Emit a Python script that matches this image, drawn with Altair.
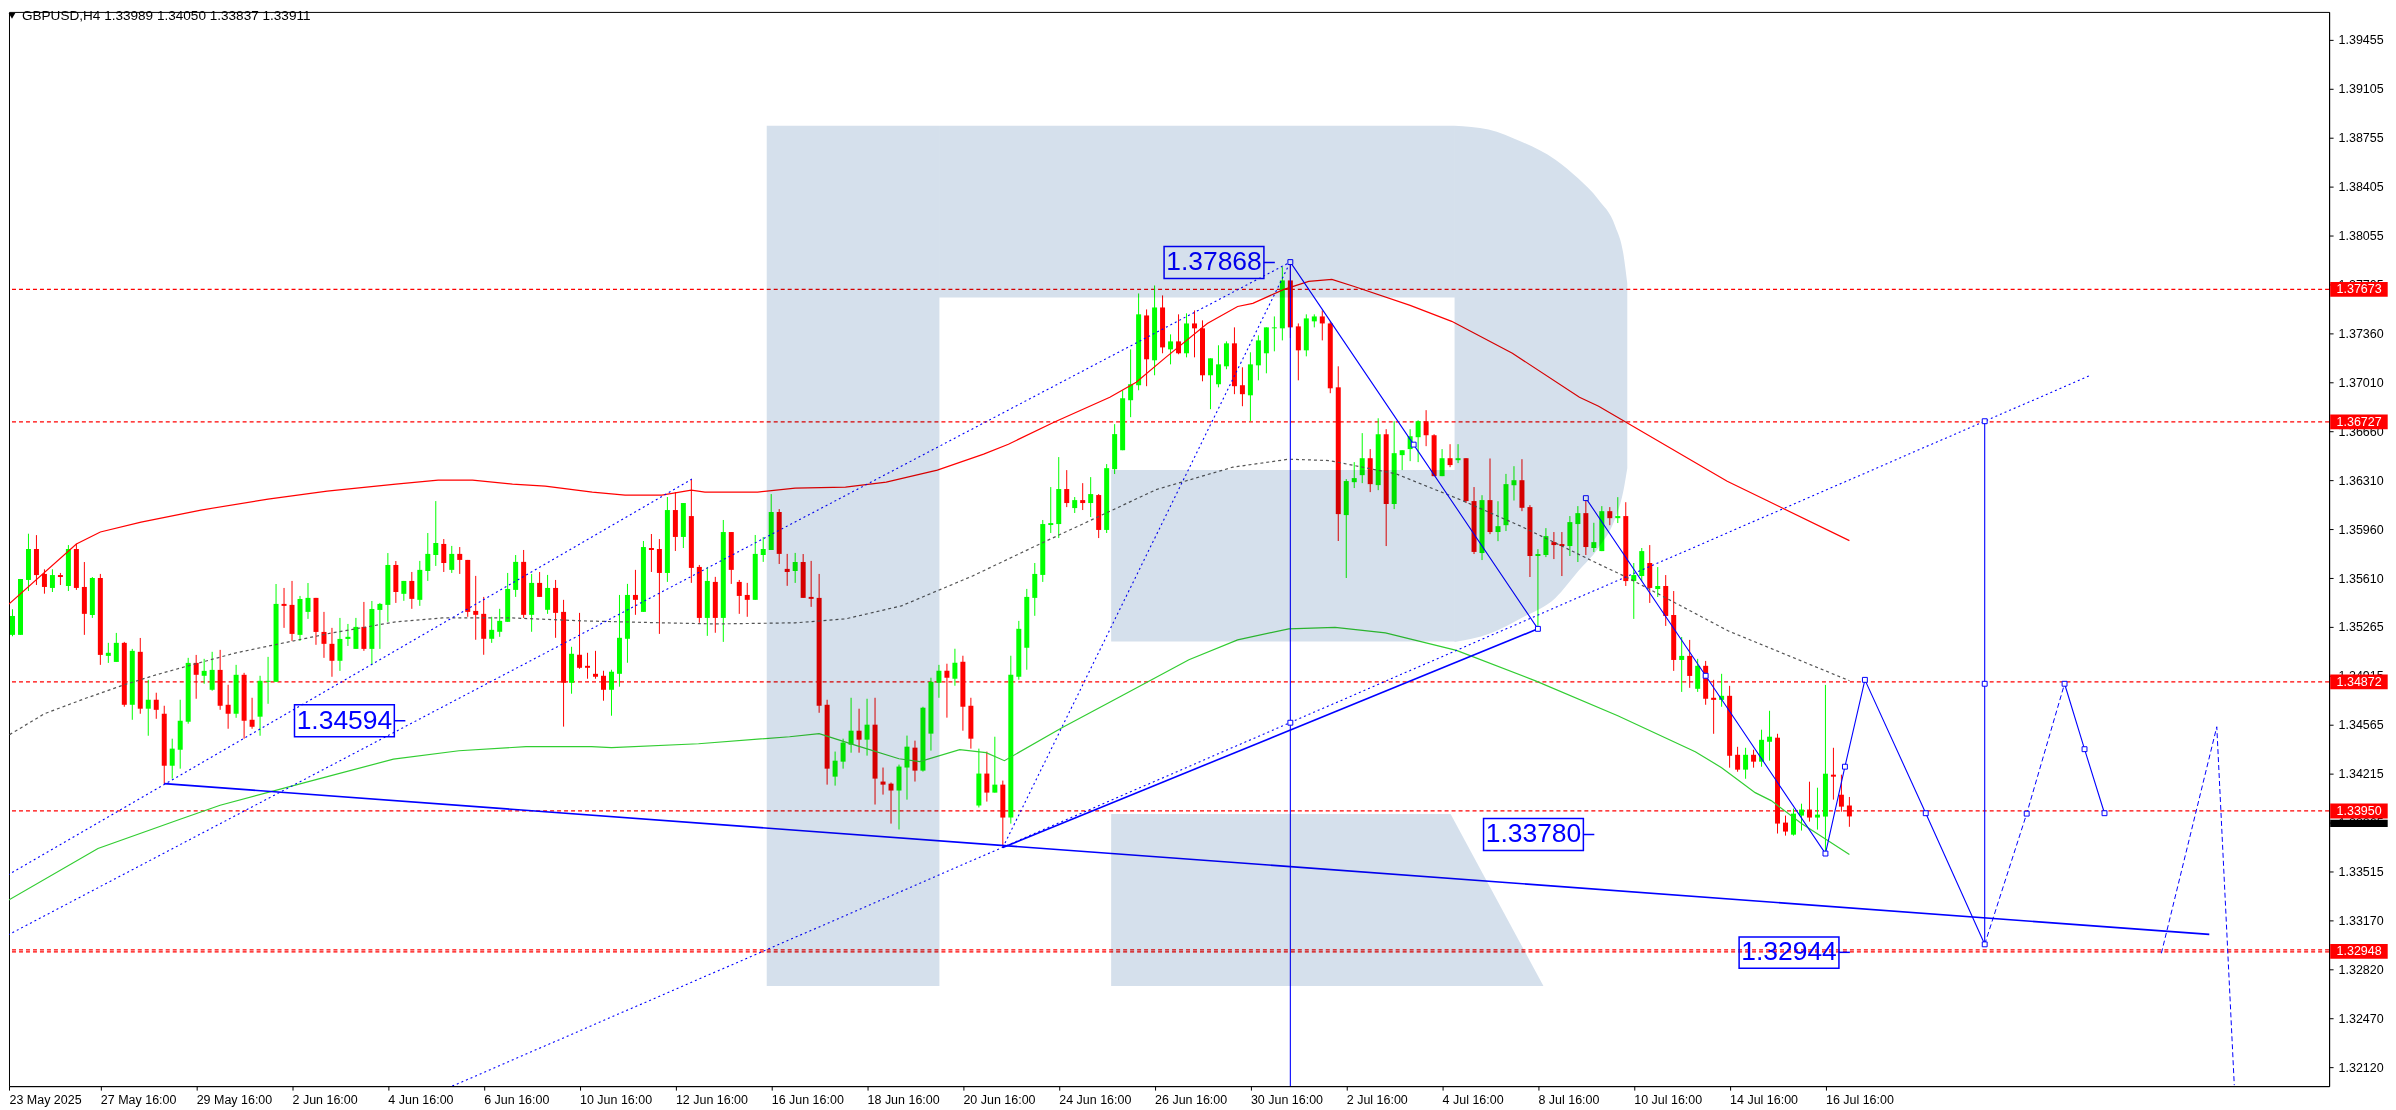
import json
import altair as alt
import pandas as pd

# ---- candles, in points (price x 100000), bar index = position in list
up = ("GGGGRRGRGR" "RGRGGRGRGR" "RGGGRGGRRG" "RRGGGRRGGR" "RRGGGRGGGR"
      "GRGGGRGRRR" "RGGGGRGRGR" "RGRRRRGGGR" "GRRGRGRRGR" "GRRRGGGRRG"
      "RRRRGGGRGR" "RRGGRGGGRG" "RRGRGRGGGG" "GGGRGRGRGG" "GGGRGRGRGR"
      "RGGGRRGGGG" "GRRGGRRRGG" "GRGRGGGGRR" "GRGRRGRGGG" "RRGGRRGGRG"
      "GRGRGGRGRR" "GRGRRGRRGR" "GGRRGGRGGR" "RR")
highs = [
 135235,135390,135606,135929,135919,135675,135675,135649,135848,135858,
 135727,135620,135642,135150,135221,135157,135107,135185,134886,134794,
 134701,134466,134744,135043,135064,135036,135086,135100,134851,134993,
 134936,134758,134915,135050,135570,135542,135592,135485,135577,135471,
 135371,135257,135328,135285,135328,135442,135449,135435,135791,135734,
 135592,135656,135735,135934,136162,135891,135842,135834,135742,135628,
 135478,135336,135393,135649,135777,135813,135642,135656,135635,135599,
 135457,135122,135364,135079,135093,134951,134958,135492,135571,135671,
 135877,135927,135891,136191,136226,136148,136319,135706,135692,135621,
 136027,135941,135599,135578,135920,135906,136212,136105,135785,135792,
 135784,135735,135642,134744,134374,134466,134758,134680,134751,134758,
 134260,134153,134281,134488,134452,134694,134901,134993,135001,135108,
 135058,134758,134395,134374,134480,134167,135058,135307,135535,135720,
 136027,136262,136476,136383,136191,136290,136333,136212,136426,136711,
 136953,137245,137644,137530,137701,137630,137352,137495,137502,137523,
 137452,137181,137274,137302,137402,137117,137224,137345,137402,137480,
 137832,137868,137430,137495,137495,137523,137445,137124,136319,136440,
 136647,136533,136753,136675,136732,136525,136675,136739,136811,136639,
 136533,136568,136568,136468,136262,136204,136466,136161,136356,136411,
 136461,136133,135819,135969,135941,135941,136055,136126,136169,136007,
 136126,136119,136190,136154,135720,135827,135848,135691,135634,135520,
 135192,135171,135036,135021,134886,134929,134843,134408,134401,134387,
 134530,134665,134501,133917,133967,134002,134159,134116,134850,134401,
 134209,134050]
tops = [
 135212,135342,135606,135820,135820,135642,135634,135634,135820,135820,
 135549,135613,135613,135079,135150,135150,135093,135086,134744,134744,
 134644,134395,134594,135007,135007,134950,134957,134957,134708,134922,
 134922,134601,134879,134879,135428,135428,135421,135463,135471,135471,
 135228,135143,135178,135193,135264,135264,135392,135428,135706,135706,
 135592,135592,135671,135785,135863,135856,135785,135785,135742,135378,
 135357,135243,135307,135535,135728,135728,135578,135578,135542,135542,
 135371,135072,135065,134986,134929,134915,134944,135186,135492,135492,
 135834,135827,135820,136098,136098,136148,136055,135692,135592,135585,
 135941,135941,135585,135492,135785,135820,136084,136084,135678,135727,
 135727,135478,135471,134708,134309,134438,134523,134523,134566,134566,
 134160,134145,134267,134409,134402,134687,134872,134951,134951,135008,
 135015,134701,134217,134217,134138,134138,134922,135250,135478,135642,
 135998,136005,136248,136248,136169,136169,136212,136205,136397,136640,
 136896,136996,137495,137487,137544,137544,137302,137302,137430,137430,
 137395,137181,137138,137288,137288,136989,137138,137309,137402,137402,
 137737,137737,137409,137466,137480,137480,137430,136974,136305,136326,
 136468,136468,136639,136639,136504,136525,136625,136732,136732,136632,
 136468,136468,136468,136468,136162,136169,136169,135983,136283,136311,
 136311,136119,135784,135912,135869,135855,136012,136076,136076,135869,
 136090,136090,136055,136055,135634,135805,135720,135556,135556,135349,
 135057,135057,134986,134986,134758,134772,134772,134351,134351,134351,
 134458,134480,134473,133867,133931,133960,133960,133924,134216,134209,
 134066,133989]
bottoms = [
 135164,135207,135207,135599,135634,135549,135542,135620,135556,135542,
 135357,135349,135064,135057,135014,134708,134708,134680,134680,134672,
 134273,134273,134387,134587,134922,134915,134815,134701,134644,134644,
 134594,134551,134623,134872,134872,135414,135214,135207,135371,135228,
 135143,135022,135022,135178,135107,135107,135107,135385,135421,135513,
 135500,135464,135457,135663,135777,135720,135671,135742,135371,135350,
 135179,135179,135229,135300,135528,135350,135350,135478,135386,135364,
 134865,134865,134972,134972,134908,134815,134815,134929,135179,135457,
 135371,135813,135649,135649,135906,135906,135685,135328,135328,135328,
 135328,135671,135485,135457,135457,135777,135813,135785,135656,135663,
 135471,135464,134701,134252,134195,134302,134423,134459,134459,134181,
 134138,134096,134096,134260,134238,134238,134502,134865,134901,134894,
 134694,134466,133989,134081,134081,133903,133903,134908,135115,135471,
 135635,135991,135998,136148,136112,136148,136148,135956,135956,136390,
 136525,136882,136989,137174,137167,137259,137245,137217,137217,137395,
 137060,137060,136996,137124,136982,136925,136917,137131,137217,137395,
 137395,137402,137238,137238,137445,137430,136967,136069,136062,136297,
 136347,136283,136276,136141,136141,136490,136533,136618,136632,136340,
 136340,136419,136454,136162,135799,135791,135941,135941,135990,136275,
 136114,135770,135770,135777,135848,135841,135841,135998,135834,135827,
 135805,136040,136040,135591,135591,135627,135542,135534,135342,135028,
 135028,134914,134822,134751,134743,134743,134344,134245,134245,134302,
 134302,134444,133860,133803,133781,133917,133903,133903,133910,134195,
 133981,133911]
lows = [
 134796,135197,135207,135520,135563,135501,135513,135563,135520,135528,
 135207,135328,134993,135007,135014,134694,134601,134644,134487,134608,
 134143,134181,134252,134573,134751,134858,134808,134672,134537,134615,
 134466,134537,134487,134715,134872,135257,135164,135164,135321,135136,
 135043,134908,134950,135128,135107,135093,134993,135107,135300,135435,
 135450,135393,135414,135592,135699,135656,135649,135642,135336,135172,
 135065,135150,135193,135300,135478,135328,135229,135478,135357,135186,
 134552,134787,134965,134894,134894,134737,134630,134837,135008,135350,
 135371,135656,135214,135585,135806,135827,135578,135293,135200,135222,
 135157,135571,135357,135336,135457,135728,135813,135713,135557,135578,
 135471,135407,134651,134138,134131,134252,134366,134366,134345,133996,
 134067,133860,133818,134031,134160,134231,134381,134758,134616,134844,
 134523,134395,133975,134017,134081,133692,133860,134887,134958,135343,
 135585,135934,135898,136119,136077,136098,136048,135898,135934,136355,
 136525,136761,136953,136982,137060,137217,137138,137210,137188,137188,
 137017,136818,136974,137103,136925,136839,136732,137024,137074,137231,
 137309,137326,137024,137195,137402,137309,136932,135877,135613,136255,
 136290,136226,136240,135841,136105,136383,136447,136440,136554,136340,
 136340,136404,136433,136148,135784,135741,135926,135876,135948,136166,
 136090,135620,135264,135762,135748,135627,135770,135727,135777,135798,
 135805,135990,136005,135556,135321,135591,135435,135477,135271,134950,
 134800,134829,134800,134708,134501,134694,134259,134230,134180,134259,
 134266,134309,133789,133774,133774,133810,133874,133817,133644,134031,
 133945,133837]

# ---- Bollinger bands (bar index, points)
upper_i = [0,9,12,17.1,24.6,33,40.4,49,54.3,58.6,63.6,67.7,73.6,77.7,82.3,86,87.7,94.3,99,105.3,110.4,116.8,122.6,125.7,131.4,138.4,141.7,145.4,150.6,154.4,156.3,160.2,163.3,166.2,169,176,181.2,188.8,197.2,199.6,215.7,220.8,231]
upper_p = [135399,135855,135941,136012,136098,136176,136233,136283,136312,136312,136283,136269,136226,136205,136205,136240,136226,136226,136255,136262,136297,136383,136497,136568,136725,136903,137010,137188,137430,137551,137573,137673,137730,137744,137694,137559,137445,137217,136903,136839,136304,136162,135880]
middle_i = [0,5,10,15,19,23,29,35,41,49,54.8,63.6,72.3,82.3,89,99,105.3,112.3,121.2,129.6,136.6,144.2,153.8,160.8,165.9,174.2,182.4,190,199.6,203.3,215.8,231]
middle_p = [134473,134644,134751,134851,134922,134986,135079,135150,135221,135300,135328,135328,135307,135293,135285,135293,135321,135414,135627,135855,136041,136244,136404,136461,136451,136357,136169,135979,135713,135613,135236,134880]
lower_i = [0,11.7,21.9,27,39,48.7,56.9,65.3,73.5,76,86.9,98.3,102,106.7,112,114.6,119.6,122.9,125.2,132.4,139.9,148.3,154.4,160.8,166.6,172.9,181.8,191.7,202,211.7,215,219.2,221.2,225,231]
lower_p = [133297,133682,133889,133991,134174,134320,134380,134409,134409,134402,134430,134480,134502,134416,134323,134302,134388,134366,134309,134544,134772,135029,135171,135250,135260,135221,135096,134879,134630,134373,134259,134081,134024,133860,133640]

# ---- drawn trend objects: (bar index, points)
dotted_lines = {
    "channel_a": ([-0.125, 86.06], [133475, 136319]),
    "channel_b": ([-0.125, 161], [133048, 137868]),
    "channel_c": ([56.06, 261.2], [131986, 137060]),
    "fan": ([125, 161], [133689, 137868]),
}
thick_lines = {
    "support": ([20, 276.06], [134145, 133069]),
    "swing": ([125, 192], [133689, 135250]),
}
thin_lines = {
    "wave1": ([161, 176.44, 192], [137868, 136565, 135250]),
    "wave2": ([198, 213, 228, 230.44, 232.94, 240.56, 247.94], [136183, 134915, 133646, 134266, 134886, 133934, 132998]),
    "wave3": ([257.94, 260.44, 262.94], [134858, 134391, 133934]),
    "stem1": ([161, 161], [137868, 131986]),
    "stem2": ([247.94, 247.94], [136732, 132998]),
}
dashed_lines = {
    "leg1": ([247.94, 253.2, 257.94], [132998, 133931, 134858]),
    "leg2": ([270.06, 277, 279.19], [132934, 134551, 131993]),
}
marker_i = [161,176.44,192,198,213,228,230.44,232.94,240.56,247.94,247.94,247.94,253.2,257.94,260.44,262.94,161]
marker_p = [137868,136565,135250,136183,134915,133646,134266,134886,133934,132998,134858,136732,133931,134858,134391,133934,134580]

# ---- horizontal levels, scale labels
levels = [1.37673, 1.36727, 1.34872, 1.33950, 1.32958, 1.32944]
tag_values = [1.37673, 1.36727, 1.34872, 1.33950, 1.32948]
last_price = 1.33911
y_ticks = [1.39455,1.39105,1.38755,1.38405,1.38055,1.37705,1.37360,1.37010,1.36660,1.36310,1.35960,
           1.35610,1.35265,1.34915,1.34565,1.34215,1.33865,1.33515,1.33170,1.32820,1.32470,1.32120]
x_labels = ["23 May 2025","27 May 16:00","29 May 16:00","2 Jun 16:00","4 Jun 16:00","6 Jun 16:00",
            "10 Jun 16:00","12 Jun 16:00","16 Jun 16:00","18 Jun 16:00","20 Jun 16:00","24 Jun 16:00",
            "26 Jun 16:00","30 Jun 16:00","2 Jul 16:00","4 Jul 16:00","8 Jul 16:00","10 Jul 16:00",
            "14 Jul 16:00","16 Jul 16:00"]
header = "GBPUSD,H4  1.33989 1.34050 1.33837 1.33911"

# ---- boxed price labels: text, box i0, i1, p0, p1, tail i1
box_text = ["1.37868","1.34594","1.33780","1.32944"]
box_i0 = [145.19,36.31,185.19,217.19]
box_i1 = [157.69,48.81,197.69,229.69]
box_top = [137979,134708,133896,133051]
box_bot = [137751,134480,133668,132827]
box_mid = [137865,134594,133782,132941]
box_tail = [159.06,50.19,199.06,231.06]

# ---- watermark letter (bar index, points)
wm_stem = (95.4375, 117.0625, 132700, 138841)
wm_top = (117.0625, 181.5625, 137616, 138841)
wm_mid = (138.5625, 181.5625, 135159, 136383)
bowl_i = [181.5625,185.81,189.94,194.19,197.06,199.56,201.69,202.69,203.19]
bowl_hi = [138841,138815,138727,138599,138464,138314,138122,137929,137715]
bowl_lo = [135157,135214,135328,135471,135663,135827,136041,136233,136397]
leg_i = [138.5625,181.06,192.69]
leg_hi = [133929,133929,132700]
leg_lo = [132700,132700,132700]

FONT = "Liberation Sans"
P = 1e5
sx = alt.Scale(domain=[0.5625, 291.0625], nice=False, zero=False)
sy = alt.Scale(domain=[1.319861, 1.396536], nice=False, zero=False)

x_axis = alt.Axis(
    values=[0.5625] + [12 * k for k in range(1, len(x_labels))],
    labelExpr=json.dumps(x_labels) + "[round(datum.value/12)]",
    title=None, grid=False, orient="bottom", tickSize=4, tickColor="black", domainColor="black",
    labelFont=FONT, labelFontSize=12.5, labelColor="black", labelAlign="left", labelPadding=3,
    labelOverlap=False, labelFlush=False, labelBound=False,
)
y_axis = alt.Axis(
    values=y_ticks, format=".5f", title=None, grid=False, orient="right", tickSize=4, tickColor="black",
    domainColor="black", labelFont=FONT, labelFontSize=12.5, labelColor="black", labelPadding=5,
    labelOverlap=False, labelFlush=False, labelBound=False,
)
X = lambda f="i": alt.X(f"{f}:Q", scale=sx, axis=x_axis)
Y = lambda f="p": alt.Y(f"{f}:Q", scale=sy, axis=y_axis)

is_up = [c == "G" for c in up]
candles = pd.DataFrame({
    "i": range(len(highs)),
    "high": [v / P for v in highs],
    "low": [v / P for v in lows],
    "open": [(b if u else t) / P for b, t, u in zip(bottoms, tops, is_up)],
    "close": [(t if u else b) / P for b, t, u in zip(bottoms, tops, is_up)],
})
candles.loc[candles.index[-1], ["open", "high", "low", "close"]] = [1.33989, 1.34050, 1.33837, 1.33911]
candle_color = alt.condition("datum.close>=datum.open", alt.value("#00ff00"), alt.value("#ff0000"))

wicks = alt.Chart(candles).mark_rule(strokeWidth=1, clip=True).encode(
    x=X(), y=Y("high"), y2="low:Q", color=candle_color,
)
bodies = alt.Chart(candles).mark_rule(strokeWidth=5, clip=True).encode(
    x=X(), y=Y("open"), y2="close:Q", color=candle_color,
)


def path(xs, ps, **mark):
    df = pd.DataFrame({"i": xs, "p": [v / P for v in ps], "o": range(len(xs))})
    return alt.Chart(df).mark_line(clip=True, **mark).encode(x=X(), y=Y(), order="o:Q")


layers = []
layers.append(alt.Chart(pd.DataFrame({"p": levels})).mark_rule(
    color="#ff0000", strokeWidth=1.3, strokeDash=[4, 3]).encode(y=Y()))
layers += [wicks, bodies]
layers.append(path(upper_i, upper_p, color="#ff0000", strokeWidth=1.2))
layers.append(path(middle_i, middle_p, color="#555555", strokeWidth=1.2, strokeDash=[3, 3]))
layers.append(path(lower_i, lower_p, color="#32cd32", strokeWidth=1.2))
for xs, ps in dotted_lines.values():
    layers.append(path(xs, ps, color="#0000ff", strokeWidth=1.1, strokeDash=[2, 3]))
for xs, ps in thick_lines.values():
    layers.append(path(xs, ps, color="#0000ff", strokeWidth=1.6))
for xs, ps in thin_lines.values():
    layers.append(path(xs, ps, color="#0000ff", strokeWidth=1.1))
for xs, ps in dashed_lines.values():
    layers.append(path(xs, ps, color="#0000ff", strokeWidth=1, strokeDash=[5, 3]))

markers = pd.DataFrame({"i": marker_i, "p": [v / P for v in marker_p]})
layers.append(alt.Chart(markers).mark_square(size=24, fill="white", stroke="#0000ff", strokeWidth=1, opacity=1, clip=True)
              .encode(x=X(), y=Y()))

boxes = pd.DataFrame({
    "t": box_text, "i0": box_i0, "i1": box_i1, "tail": box_tail,
    "top": [v / P for v in box_top], "bot": [v / P for v in box_bot], "mid": [v / P for v in box_mid],
    "c": [(a + b) / 2 for a, b in zip(box_i0, box_i1)],
})
layers.append(alt.Chart(boxes).mark_rule(color="#0000ff", strokeWidth=1.5).encode(x=X("i1"), x2="tail:Q", y=Y("mid")))
layers.append(alt.Chart(boxes).mark_rect(color="#0000ff", fillOpacity=0, stroke="#0000ff", strokeWidth=1.5)
              .encode(x=X("i0"), x2="i1:Q", y=Y("top"), y2="bot:Q"))
layers.append(alt.Chart(boxes).mark_text(font=FONT, fontSize=26.5, color="#0000ff", align="center", baseline="middle")
              .encode(x=X("c"), y=Y("mid"), text="t:N"))

# price tags on the scale
half = 0.00053
layers.append(alt.Chart(pd.DataFrame({"a": [291.2], "b": [298.4], "top": [1.33888], "bot": [1.33835]}))
              .mark_rect(color="black").encode(x=X("a"), x2="b:Q", y=Y("top"), y2="bot:Q"))
tags = pd.DataFrame({"p": tag_values, "t": [f"{v:.5f}" for v in tag_values]})
tags["top"] = tags.p + half
tags["bot"] = tags.p - half
tags["a"] = 291.2
tags["b"] = 298.4
tags["c"] = 292
layers.append(alt.Chart(tags).mark_rect(color="#ff0000").encode(x=X("a"), x2="b:Q", y=Y("top"), y2="bot:Q"))
layers.append(alt.Chart(tags).mark_text(font=FONT, fontSize=12.5, color="white", align="left", baseline="middle")
              .encode(x=X("c"), y=Y("p"), text="t:N"))

# header
layers.append(alt.Chart(pd.DataFrame({"t": [header]})).mark_text(
    font=FONT, fontSize=13.6, color="black", align="left", baseline="middle").encode(
    x=alt.value(13), y=alt.value(4), text="t:N"))
layers.append(alt.Chart(pd.DataFrame({"t": [0]})).mark_point(
    shape="triangle-down", filled=True, color="black", size=45, opacity=1).encode(x=alt.value(3), y=alt.value(4)))

# watermark letter, multiplied over everything
WM = "#d5e0ec"
rects = pd.DataFrame([wm_stem, wm_top, wm_mid], columns=["a", "b", "lo", "hi"])
rects["lo"] = rects["lo"] / P
rects["hi"] = rects["hi"] / P
layers.append(alt.Chart(rects).mark_rect(color=WM, blend="multiply").encode(
    x=X("a"), x2="b:Q", y=Y("hi"), y2="lo:Q"))
for xs, hi, lo, interp in [(bowl_i, bowl_hi, bowl_lo, "monotone"), (leg_i, leg_hi, leg_lo, "linear")]:
    df = pd.DataFrame({"i": xs, "hi": [v / P for v in hi], "lo": [v / P for v in lo]})
    layers.append(alt.Chart(df).mark_area(color=WM, blend="multiply", opacity=1, interpolate=interp, orient="vertical").encode(
        x=X(), y=Y("hi"), y2="lo:Q"))

chart = alt.layer(*layers).properties(
    width=2324, height=1076, padding=0, background="white",
).configure_view(stroke="black", strokeWidth=1).configure_axis(domainWidth=1, tickWidth=1)

chart.save("out.html", embed_options={"renderer": "svg", "actions": False})
